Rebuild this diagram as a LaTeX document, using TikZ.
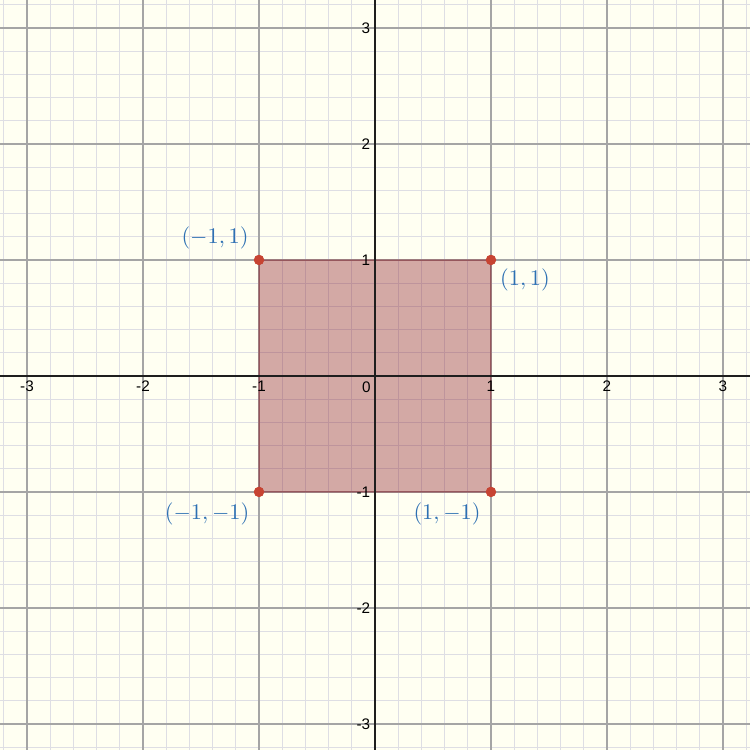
\documentclass[tikz,border=0pt]{standalone}
\usepackage{fontspec}
\newfontfamily\ticksf{Liberation Sans}
\definecolor{bgc}{RGB}{255,255,242}
\definecolor{minorc}{RGB}{222,222,228}
\definecolor{majorc}{RGB}{165,165,165}
\definecolor{axisc}{RGB}{30,30,30}
\definecolor{fillc}{RGB}{140,30,40}
\definecolor{ptc}{RGB}{199,68,50}
\definecolor{lblc}{RGB}{45,112,179}
\tikzset{
  minorgrid/.style={draw=minorc, line width=0.5pt},
  majorgrid/.style={draw=majorc, line width=0.6pt},
  axisline/.style={draw=axisc, line width=0.9pt},
  ticklbl/.style={font=\ticksf\fontsize{7.5}{9}\selectfont, text=black, inner sep=1pt},
  pt/.style={circle, fill=ptc, inner sep=0pt, minimum size=5pt},
  ptlbl/.style={font=\fontsize{11}{13}\selectfont, text=lblc, inner sep=0pt},
  region/.style={fill=fillc, fill opacity=0.38, draw=fillc, draw opacity=0.3, line width=0.6pt}
}
\begin{document}
\begin{tikzpicture}[x=2cm,y=2cm]
\useasboundingbox (-3.233,-3.224) rectangle (3.233,3.241);
\fill[bgc] (-3.233,-3.224) rectangle (3.233,3.241);
% minor grid
\foreach \k in {-16,...,16}{
  \draw[minorgrid] (\k*0.2,-3.224) -- (\k*0.2,3.241);
  \draw[minorgrid] (-3.233,\k*0.2) -- (3.233,\k*0.2);
}
% major grid
\foreach \k in {-3,...,3}{
  \draw[majorgrid] (\k,-3.224) -- (\k,3.241);
  \draw[majorgrid] (-3.233,\k) -- (3.233,\k);
}
% corner points
\node[pt] (a) at (-1,1) {};
\node[pt] (b) at (1,1) {};
\node[pt] (c) at (1,-1) {};
\node[pt] (d) at (-1,-1) {};
% region
\fill[region] (a.center) -- (b.center) -- (c.center) -- (d.center) -- cycle;
% axes
\draw[axisline] (-3.233,0) -- (3.233,0);
\draw[axisline] (0,-3.224) -- (0,3.241);
% tick labels
\foreach \k in {-3,-2,-1,1,2,3}{
  \node[ticklbl] (tx\k) at (\k,-0.085) {\k};
  \node[ticklbl, anchor=east] (ty\k) at (-0.02,\k) {\k};
}
\node[ticklbl] (t0) at (-0.075,-0.095) {0};
% points drawn again on top
\node[pt] (a2) at (a) {};
\node[pt] (b2) at (b) {};
\node[pt] (c2) at (c) {};
\node[pt] (d2) at (d) {};
% point labels
\node[ptlbl] (la) at (-1.379,1.19) {$(-1,1)$};
\node[ptlbl] (lb) at (1.293,0.828) {$(1,1)$};
\node[ptlbl] (ld) at (-1.448,-1.19) {$(-1,-1)$};
\node[ptlbl] (lc) at (0.621,-1.19) {$(1,-1)$};
\end{tikzpicture}
\end{document}
